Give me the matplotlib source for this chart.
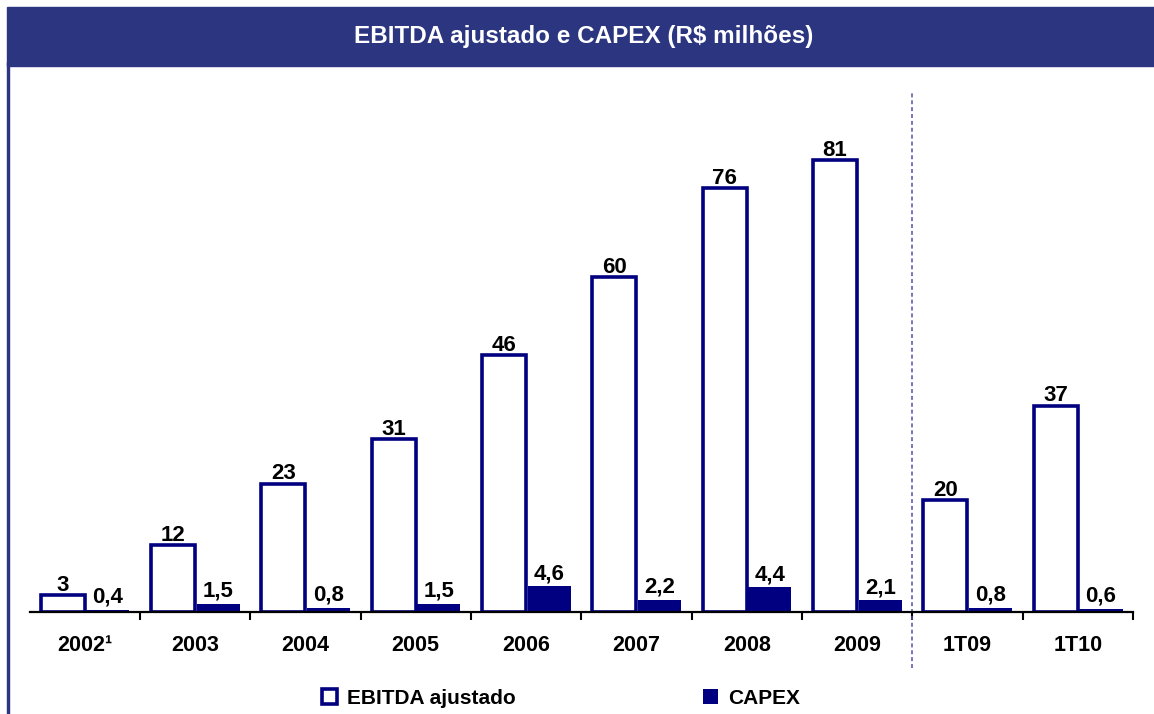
import numpy as np
import matplotlib.pyplot as plt
from matplotlib.patches import Rectangle

plt.rcParams['font.family'] = ['Liberation Sans', 'DejaVu Sans']
plt.rcParams['font.weight'] = 'bold'

categorias = ['2002¹', '2003', '2004', '2005', '2006', '2007', '2008', '2009', '1T09', '1T10']
ebitda = [3, 12, 23, 31, 46, 60, 76, 81, 20, 37]
capex = [0.4, 1.5, 0.8, 1.5, 4.6, 2.2, 4.4, 2.1, 0.8, 0.6]
titulo = 'EBITDA ajustado e CAPEX (R$ milhões)'

navy = '#000080'
banner = '#2B3580'

W, H = 1154, 714
fig = plt.figure(figsize=(W / 100, H / 100), dpi=100)

# banner do titulo + borda esquerda
fig.patches.append(Rectangle((7 / W, 1 - 66 / H), 1 - 7 / W, 59 / H,
                             transform=fig.transFigure, color=banner, zorder=0))
fig.patches.append(Rectangle((7 / W, 0), 2 / W, 1 - 62 / H,
                             transform=fig.transFigure, color=banner, zorder=0))
fig.text(583.5 / W, 1 - 37 / H, titulo, color='white', fontsize=17.5,
         fontweight='bold', ha='center', va='center')

ax = fig.add_axes([29.5 / W, 102 / H, (1133 - 29.5) / W, 520 / H])
x = np.arange(len(categorias))

b1 = ax.bar(x + 0.3, ebitda, width=0.4, facecolor='white', edgecolor=navy,
            linewidth=2.6, label='EBITDA ajustado', zorder=2)
b2 = ax.bar(x + 0.71, capex, width=0.39, color=navy, label='CAPEX', zorder=2)

for xi, v in zip(x, ebitda):
    ax.text(xi + 0.3, v + 0.8, str(v), ha='center', va='baseline', fontsize=16,
            fontweight='bold')
for xi, v in zip(x, capex):
    ax.text(xi + 0.71, v + 1.25, f'{v:.1f}'.replace('.', ','), ha='center',
            va='baseline', fontsize=16, fontweight='bold')

ax.set_xlim(0, 10)
ax.set_ylim(0, 93.2)
ax.set_yticks([])
for s in ['top', 'right', 'left']:
    ax.spines[s].set_visible(False)
ax.spines['bottom'].set_linewidth(1.6)
ax.spines['bottom'].set_zorder(3)

ax.set_xticks(x + 1)
ax.set_xticklabels([])
ax.tick_params(axis='x', which='major', length=6, width=1.5, direction='out')
ax.set_xticks(x + 0.5, minor=True)
ax.set_xticklabels(categorias, minor=True, fontsize=15.5, fontweight='bold')
ax.tick_params(axis='x', which='minor', length=0, pad=16.5)

# separacao entre anos e trimestres
ax.axvline(8, ymin=-0.108, ymax=1, color='#5050A8', linewidth=1.1,
           dashes=(2.6, 1.9), clip_on=False)

fig.legend(handles=[b1, b2], loc='center left', bbox_to_anchor=(322 / W, 16 / H),
           ncol=2, frameon=False, fontsize=15, borderpad=0, borderaxespad=0,
           handlelength=0.7, handleheight=0.7, handletextpad=0.5,
           columnspacing=9.0)

plt.savefig('out.png', dpi=100)
